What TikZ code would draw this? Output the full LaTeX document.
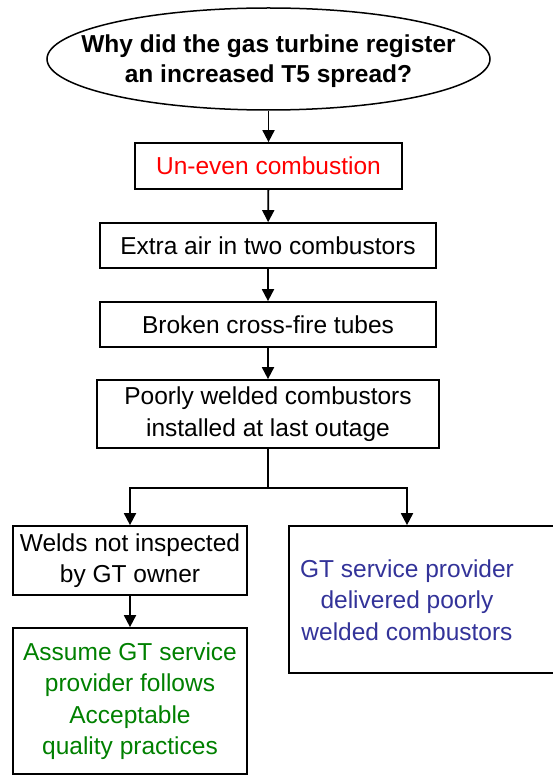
\documentclass[tikz,border=0pt]{standalone}
\usepackage{fontspec}
\setmainfont{Liberation Sans}
\usetikzlibrary{arrows.meta,shapes.geometric}
\definecolor{causered}{RGB}{255,0,0}
\definecolor{causeblue}{RGB}{51,51,153}
\definecolor{causegreen}{RGB}{0,128,0}
\begin{document}
\begin{tikzpicture}[x=1pt,y=-1pt,
  txt/.style={inner sep=0pt, align=center, font=\fontsize{24.5}{31.5}\selectfont},
  stepbox/.style={txt, draw, line width=1.7pt, rectangle},
  link/.style={line width=1.8pt, -{Triangle[width=12pt,length=12pt]}},
]
\useasboundingbox (0,0) rectangle (553,775);
\clip (0,0) rectangle (553,775);

% question
\node[draw, ellipse, line width=1.5pt, inner sep=0pt,
      minimum width=443pt, minimum height=102pt] (q) at (268.5,59) {};
\node[txt, font=\fontsize{24.5}{30}\selectfont\bfseries] at (268.5,61)
  {Why did the gas turbine register\\an increased T5 spread?};

% chain of causes
\node[stepbox, text=causered, minimum width=267pt, minimum height=46pt] (b1) at (268.5,166) {Un-even combustion};
\node[stepbox, minimum width=336pt, minimum height=45pt] (b2) at (268,245.5) {Extra air in two combustors};
\node[stepbox, minimum width=336pt, minimum height=45pt] (b3) at (268,324.5) {Broken cross-fire tubes};
\node[stepbox, minimum width=342pt, minimum height=68pt] (b4) at (268,414) {Poorly welded combustors\\installed at last outage};

% left branch
\node[stepbox, minimum width=234pt, minimum height=69pt] (b5) at (130,560.5) {Welds not inspected\\by GT owner};
\node[stepbox, text=causegreen, minimum width=234pt, minimum height=146pt] (b6) at (130,701)
  {Assume GT service\\provider follows\\Acceptable\\quality practices};

% right branch
\node[stepbox, minimum width=271pt, minimum height=147pt] (b7) at (424.5,599.5) {};
\node[txt, text=causeblue] (b7t) at (407,600) {GT service provider\\delivered poorly\\welded combustors};

% connectors
\draw[link] (q) -- (b1);
\draw[link] (b1) -- (b2);
\draw[link] (b2) -- (b3);
\draw[link] (b3) -- (b4);
\draw[line width=1.8pt] (b4.south) -- ++(0,39) coordinate (fork);
\draw[link] (fork) -| (b5.north);
\draw[link] (fork) -| (b7.north -| b7t);
\draw[link] (b5) -- (b6);
\end{tikzpicture}
\end{document}
